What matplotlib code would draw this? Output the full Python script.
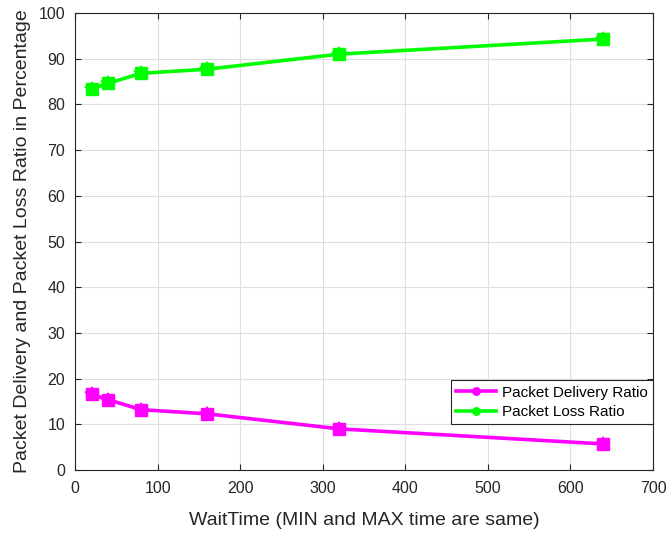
import matplotlib
matplotlib.use("Agg")
import matplotlib.pyplot as plt

wait_time = [20, 40, 80, 160, 320, 640]
delivery_ratio = [16.6, 15.4, 13.2, 12.3, 9.0, 5.7]
loss_ratio = [83.4, 84.6, 86.8, 87.7, 91.0, 94.3]
xticks = [0, 100, 200, 300, 400, 500, 600, 700]
yticks = [0, 10, 20, 30, 40, 50, 60, 70, 80, 90, 100]

plt.rcParams['font.family'] = ['Liberation Sans', 'DejaVu Sans']

fig = plt.figure(figsize=(6.69, 5.33), dpi=100)
ax = fig.add_axes([75 / 669, 63 / 533, 578 / 669, 457 / 533])

for yv, col, lab in [(delivery_ratio, '#ff00ff', 'Packet Delivery Ratio'),
                     (loss_ratio, '#00ff00', 'Packet Loss Ratio')]:
    ax.plot(wait_time, yv, color=col, lw=2.6, marker='o', ms=6,
            mec=col, mfc=col, label=lab)
    ax.plot(wait_time, yv, ls='none', marker='s', ms=8, mec=col, mfc=col)
    ax.plot(wait_time, yv, ls='none', marker='*', ms=10, mec=col, mfc=col, mew=1.2)

ax.set_xlim(0, 700)
ax.set_ylim(0, 100)
ax.set_xticks(xticks)
ax.set_yticks(yticks)
ax.grid(True, color='#dedede', lw=0.8)
ax.set_axisbelow(True)
ax.tick_params(direction='in', labelsize=11.5, colors='#262626', top=True, right=True, length=4)
ax.tick_params(axis='x', pad=8)
ax.tick_params(axis='y', pad=7)
for s in ax.spines.values():
    s.set_color('#262626')
    s.set_linewidth(0.8)

ax.set_xlabel('WaitTime (MIN and MAX time are same)', fontsize=14, color='#262626', va='center')
ax.xaxis.set_label_coords(0.5, -0.11)
ax.set_ylabel('Packet Delivery and Packet Loss Ratio in Percentage', fontsize=14, color='#262626', va='center')
ax.yaxis.set_label_coords(-0.09, 0.5)

leg = ax.legend(loc='lower right', bbox_to_anchor=(1.0, 0.10), borderaxespad=0, fancybox=False,
                edgecolor='#262626', framealpha=1, fontsize=11, borderpad=0.35, handlelength=2.6,
                labelspacing=0.35, handletextpad=0.4, markerscale=0.9)
leg.get_frame().set_linewidth(0.8)

fig.savefig('out.png', dpi=100)
